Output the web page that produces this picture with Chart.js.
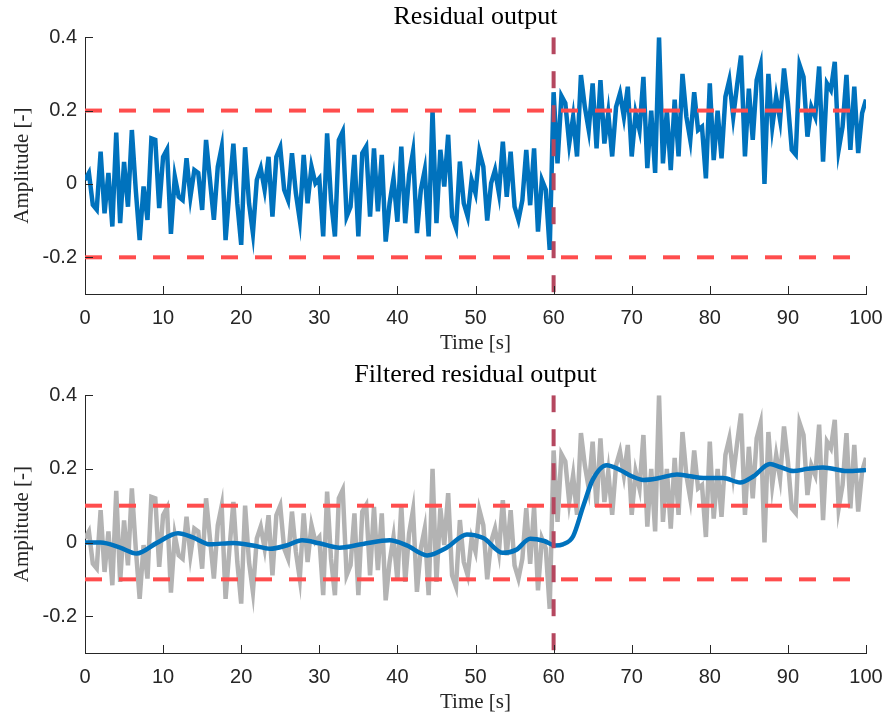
<!DOCTYPE html>
<html>
<head>
<meta charset="utf-8">
<script src="https://cdn.jsdelivr.net/npm/chart.js@4.4.1/dist/chart.umd.min.js"></script>
<style>
  html, body { margin: 0; padding: 0; background: #fff; }
  .panel { position: absolute; left: 0; width: 887px; }
  #top { top: 0; height: 358px; }
  #bottom { top: 358px; height: 359px; }
</style>
</head>
<body>
<div class="panel" id="top"><canvas id="residualChart" width="887" height="358"></canvas></div>
<div class="panel" id="bottom"><canvas id="filteredChart" width="887" height="359"></canvas></div>
<script>
// raw residual, sampled every 0.5 s from 0 to 100 s
const sampleStep = 0.5;
const residual = [
  0.011, 0.03, -0.057, -0.07, 0.088, -0.08, 0.03, -0.116, 0.14, -0.107, 0.06, -0.062, 0.147,
  -0.016, -0.153, -0.007, -0.098, 0.124, 0.12, -0.066, 0.074, 0.094, -0.136, 0.02, -0.035,
  -0.044, 0.07, -0.035, 0.038, 0.03, -0.071, 0.12, 0.011, -0.098, 0.047, 0.10, -0.153,
  -0.016, 0.11, -0.053, -0.166, 0.10, -0.053, -0.134, 0.011, 0.043, -0.016, 0.074, -0.089,
  0.074, 0.10, -0.016, -0.044, 0.084, -0.025, -0.098, 0.079, -0.053, 0.047, 0.002, 0.015,
  -0.143, 0.138, -0.044, -0.143, 0.12, 0.143, -0.089, -0.062, 0.079, -0.143, 0.084, 0.102, -0.089,
  0.097, -0.075, 0.079, -0.157, -0.053, 0.015, -0.103, 0.102, -0.107, 0.025, 0.088, -0.134,
  -0.016, 0.038, -0.143, 0.2, -0.107, 0.093, -0.007, 0.134, -0.089, -0.12, 0.061, -0.053,
  -0.089, 0.011, -0.025, 0.088, 0.047, -0.1, 0.002, 0.038, -0.025, 0.115, -0.035,
  0.088, -0.062, -0.098, -0.044, 0.093, -0.058, 0.097, -0.13, 0.011, -0.016, -0.18,
  0.25, 0.056, 0.24, 0.22, 0.11, 0.183, 0.075, 0.297, 0.21, 0.147, 0.274, 0.097, 0.283,
  0.11, 0.193, 0.075, 0.21, 0.247, 0.183, 0.265, 0.075, 0.193, 0.147, 0.292, 0.043,
  0.2, 0.03, 0.4, 0.056, 0.2, 0.038, 0.23, 0.075, 0.3, 0.183, 0.12, 0.25,
  0.147, 0.156, 0.015, 0.274, 0.065, 0.2, 0.07, 0.238, 0.283, 0.183, 0.27, 0.35,
  0.075, 0.26, 0.12, 0.283, 0.324, 0.0, 0.3, 0.156, 0.238, 0.174, 0.315, 0.22, 0.093, 0.08,
  0.324, 0.292, 0.129, 0.21, 0.183, 0.32, 0.061, 0.274, 0.256, 0.333, 0.093, 0.156, 0.297,
  0.093, 0.265, 0.084, 0.193, 0.23
];

// low-pass filtered residual
const filteredTime = [
  0, 2, 4.5, 6.6, 9.2, 11.9, 13.8, 16, 19, 21.5, 23.7, 25.8, 27.8, 30, 32.6, 35.6, 39, 41.2,
  43.8, 46.3, 48.9, 51, 53.5, 55.2, 57, 58.8, 60.2, 61.2, 62.5, 63.8, 65, 66.8, 68.5, 70,
  71.5, 73.5, 75.8, 77.5, 79.2, 81.7, 83.9, 85.6, 87.7, 89, 90.7, 92.5, 94.5, 97.6, 100
];
const filteredValue = [
  0.0, 0.0, -0.014, -0.03, -0.001, 0.025, 0.014, -0.005, -0.001, -0.008, -0.017, -0.008,
  0.006, -0.002, -0.014, -0.004, 0.006, -0.008, -0.035, -0.014, 0.022, 0.012, -0.028,
  -0.02, 0.01, 0.004, -0.008, -0.005, 0.017, 0.099, 0.17, 0.21, 0.197, 0.18, 0.17, 0.175,
  0.185, 0.18, 0.175, 0.175, 0.163, 0.18, 0.213, 0.205, 0.194, 0.2, 0.204, 0.194, 0.197
];

const residualLimits = [-0.2, 0.2];
const filteredLimits = [-0.1, 0.1];
const faultTime = 60;

const timeRange = [0, 100];
const amplitudeRange = [-0.3, 0.4];
const timeTicks = [0, 10, 20, 30, 40, 50, 60, 70, 80, 90, 100];
const amplitudeTicks = [-0.2, 0, 0.2, 0.4];

const BLUE = '#0072bd';
const GREY = '#b3b3b3';
const RED = '#ff4d4d';
const FAULT = '#b5475f';
const AXIS = '#262626';
const SANS = '"Liberation Sans", Arial, sans-serif';
const SERIF = '"Liberation Serif", "Times New Roman", serif';

const residualTime = residual.map((_, i) => i * sampleStep);
const toPoints = (xs, ys) => ys.map((y, i) => ({ x: xs[i], y }));

function series(points, color) {
  return { data: points, borderColor: color, borderWidth: 4.5, pointRadius: 0, tension: 0 };
}

function limitLine(y) {
  return {
    data: [{ x: timeRange[0], y }, { x: timeRange[1], y }],
    borderColor: RED, borderWidth: 4, borderDash: [17, 17], pointRadius: 0
  };
}

function faultLine() {
  return {
    data: [{ x: faultTime, y: amplitudeRange[1] }, { x: faultTime, y: amplitudeRange[0] }],
    borderColor: FAULT, borderWidth: 4, borderDash: [17, 17], pointRadius: 0
  };
}

// tick marks pointing into the plot, MATLAB style
const innerTicks = {
  id: 'innerTicks',
  afterDraw(chart) {
    const { ctx } = chart;
    const xs = chart.scales.x;
    const ys = chart.scales.y;
    ctx.save();
    ctx.strokeStyle = AXIS;
    ctx.lineWidth = 1;
    ctx.beginPath();
    xs.ticks.forEach((t) => {
      const px = Math.round(xs.getPixelForValue(t.value)) + 0.5;
      ctx.moveTo(px, ys.bottom);
      ctx.lineTo(px, ys.bottom - 8);
    });
    ys.ticks.forEach((t) => {
      const py = Math.round(ys.getPixelForValue(t.value)) + 0.5;
      ctx.moveTo(xs.left, py);
      ctx.lineTo(xs.left + 8, py);
    });
    ctx.stroke();
    ctx.restore();
  }
};

function panelOptions(title) {
  return {
    responsive: false,
    animation: false,
    devicePixelRatio: 1,
    layout: { padding: { left: 0, right: 21, top: 0, bottom: 0 } },
    plugins: {
      legend: { display: false },
      tooltip: { enabled: false },
      title: {
        display: true,
        fullSize: false,
        text: title,
        color: '#000',
        font: { family: SERIF, size: 26, weight: 'normal' },
        padding: { top: 2, bottom: 4 }
      }
    },
    scales: {
      x: {
        type: 'linear',
        min: timeRange[0],
        max: timeRange[1],
        afterBuildTicks: (scale) => { scale.ticks = timeTicks.map((value) => ({ value })); },
        afterFit: (scale) => {
          scale.height = 64;
          scale.paddingLeft = 0;
          scale.paddingRight = 0;
        },
        grid: { display: false, drawTicks: false },
        border: { display: true, color: AXIS, width: 1 },
        ticks: { color: AXIS, font: { family: SANS, size: 20 }, padding: 12, maxRotation: 0, callback: (v) => String(v) },
        title: {
          display: true,
          text: 'Time [s]',
          color: AXIS,
          font: { family: SERIF, size: 21 },
          padding: { top: 0, bottom: 2 }
        }
      },
      y: {
        type: 'linear',
        min: amplitudeRange[0],
        max: amplitudeRange[1],
        afterBuildTicks: (scale) => { scale.ticks = amplitudeTicks.map((value) => ({ value })); },
        afterFit: (scale) => { scale.width = 85; },
        grid: { display: false, drawTicks: false },
        border: { display: true, color: AXIS, width: 1 },
        ticks: { color: AXIS, font: { family: SANS, size: 20 }, padding: 8, callback: (v) => String(v) },
        title: {
          display: true,
          text: 'Amplitude [-]',
          color: AXIS,
          font: { family: SERIF, size: 21 },
          padding: { top: 10, bottom: 0 }
        }
      }
    }
  };
}

// first dataset is drawn on top
new Chart(document.getElementById('residualChart'), {
  type: 'line',
  data: {
    datasets: [
      faultLine(),
      ...residualLimits.map(limitLine),
      series(toPoints(residualTime, residual), BLUE)
    ]
  },
  options: panelOptions('Residual output'),
  plugins: [innerTicks]
});

new Chart(document.getElementById('filteredChart'), {
  type: 'line',
  data: {
    datasets: [
      faultLine(),
      ...filteredLimits.map(limitLine),
      { ...series(toPoints(filteredTime, filteredValue), BLUE), cubicInterpolationMode: 'monotone' },
      series(toPoints(residualTime, residual), GREY)
    ]
  },
  options: panelOptions('Filtered residual output'),
  plugins: [innerTicks]
});
</script>
</body>
</html>
